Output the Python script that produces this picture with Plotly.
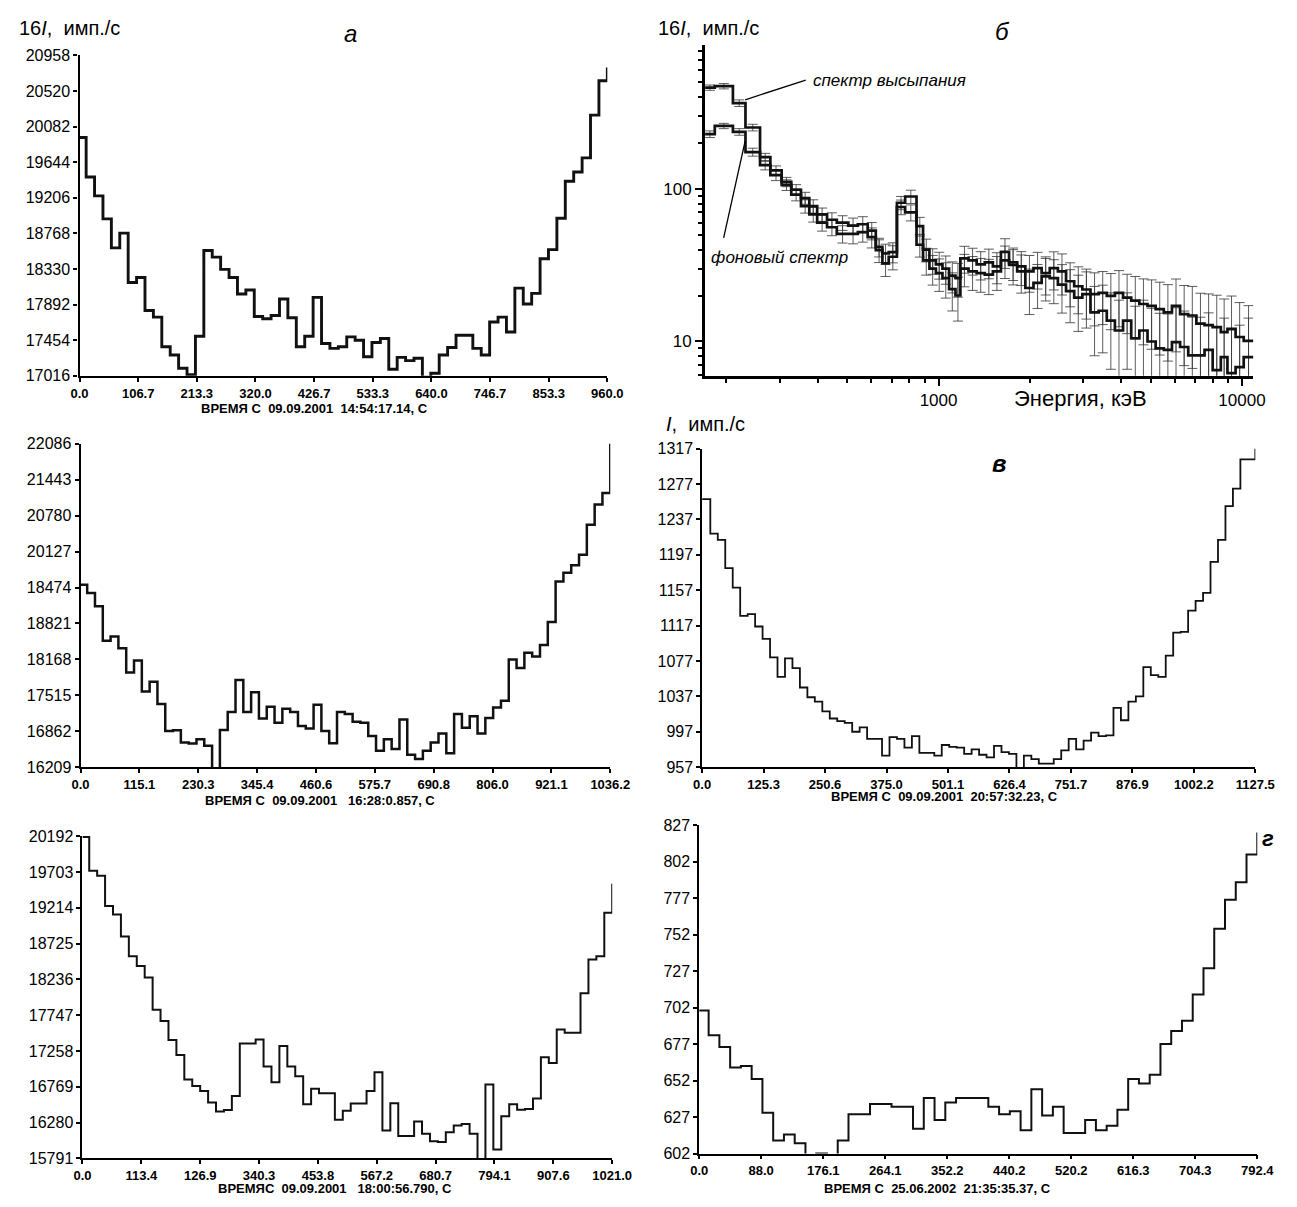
import math
import plotly.graph_objects as go

W, H = 1297, 1207          # target page size
PAD = 8                    # browser body margin around the figure
FW, FH = W - 2 * PAD, H - 2 * PAD
FONT = "Liberation Sans, Arial, sans-serif"

# ---------------- data ----------------
a_vals = [19949, 19462, 19230, 18947, 18590, 18772, 18164, 18225, 17819, 17738,
          17373, 17271, 17109, 17028, 17503, 18557, 18476, 18326, 18225, 18022,
          18071, 17746, 17718, 17758, 17961, 17730, 17373, 17503, 17981, 17413,
          17353, 17373, 17495, 17454, 17251, 17426, 17474, 17097, 17243, 17203,
          17231, 17000, 17048, 17271, 17365, 17515, 17515, 17353, 17271, 17677,
          17738, 17555, 18095, 17900, 18030, 18456, 18569, 18955, 19409, 19523,
          19697, 20224, 20646]
a_end = 20810
a_first = 12.0
a_T = 960.0
a_xt = ["0.0", "106.7", "213.3", "320.0", "426.7", "533.3", "640.0", "746.7", "853.3", "960.0"]
a_yt = ["17016", "17454", "17892", "18330", "18768", "19206", "19644", "20082", "20520", "20958"]

m_vals = [19522, 19373, 19134, 18507, 18585, 18370, 17928, 18149, 17582, 17761,
          17355, 16866, 16878, 16657, 16639, 16716, 16597, 16150, 16884, 17212,
          17791, 17212, 17570, 17092, 17307, 17015, 17271, 17212, 16955, 16913,
          17343, 16866, 16645, 17212, 17176, 17033, 17015, 16776, 16507, 16716,
          16537, 17074, 16436, 16358, 16507, 16657, 16818, 16460, 17176, 16925,
          17134, 16818, 17104, 17295, 17415, 18167, 18012, 18286, 18221, 18430,
          18847, 19581, 19742, 19880, 20071, 20614, 20984, 21193]
m_end = 22200
m_first = 13.0
m_T = 1036.2
m_xt = ["0.0", "115.1", "230.3", "345.4", "460.6", "575.7", "690.8", "806.0", "921.1", "1036.2"]
m_yt = ["16209", "16862", "17515", "18168", "18821", "18474", "20127", "20780", "21443", "22086"]

l_vals = [20180, 19720, 19652, 19239, 19123, 18822, 18552, 18418, 18260, 17820,
          17668, 17407, 17205, 16869, 16779, 16711, 16554, 16433, 16451, 16644,
          17362, 17362, 17416, 17048, 16833, 17326, 17048, 16913, 16532, 16743,
          16680, 16680, 16321, 16442, 16541, 16541, 16711, 16967, 16173, 16545,
          16096, 16096, 16294, 16128, 16025, 16016, 16150, 16240, 16262, 16128,
          15700, 16801, 15912, 16366, 16532, 16456, 16465, 16608, 17174, 17093,
          17551, 17506, 17506, 18045, 18507, 18552, 19145]
l_end = 19540
l_first = 13.0
l_T = 1021.0
l_xt = ["0.0", "113.4", "126.9", "340.3", "453.8", "567.2", "680.7", "794.1", "907.6", "1021.0"]
l_yt = ["15791", "16280", "16769", "17258", "17747", "18236", "18725", "19214", "19703", "20192"]

v_vals = [1260, 1221, 1214, 1182, 1160, 1128, 1130, 1116, 1102, 1081,
          1059, 1080, 1069, 1047, 1036, 1031, 1020, 1012, 1009, 1007,
          997, 1002, 989, 989, 970, 991, 989, 979, 992, 973,
          973, 970, 982, 980, 979, 972, 977, 971, 968, 981,
          974, 972, 955, 970, 966, 961, 961, 966, 976, 989,
          977, 987, 996, 992, 993, 1024, 1010, 1031, 1037, 1070,
          1061, 1059, 1083, 1109, 1110, 1134, 1145, 1154, 1189, 1214,
          1252, 1272, 1305, 1305]
v_end = 1325
v_first = 16.7
v_T = 1127.5
v_xt = ["0.0", "125.3", "250.6", "375.0", "501.1", "626.4", "751.7", "876.9", "1002.2", "1127.5"]
v_yt = ["957", "997", "1037", "1077", "1117", "1157", "1197", "1237", "1277", "1317"]

g_vals = [700, 683, 675, 661, 662, 653, 630, 611, 615, 609,
          601, 602, 598, 611, 629, 629, 636, 636, 634, 634,
          619, 640, 625, 637, 640, 640, 640, 634, 629, 631,
          618, 646, 628, 634, 616, 616, 625, 618, 621, 632,
          653, 650, 656, 677, 686, 693, 711, 729, 756, 776,
          788, 807]
g_end = 822
g_first = 13.4
g_T = 792.4
g_xt = ["0.0", "88.0", "176.1", "264.1", "352.2", "440.2", "520.2", "616.3", "704.3", "792.4"]
g_yt = ["602", "627", "652", "677", "702", "727", "752", "777", "802", "827"]

E_edges = [170, 183, 210, 231, 258, 279, 304, 327, 352, 375, 398, 429, 462, 504, 542,
           584, 621, 653, 685, 729, 776, 846, 889, 933, 980, 1030, 1083, 1137, 1180,
           1255, 1335, 1420, 1510, 1605, 1707, 1816, 1932, 2055, 2186, 2325, 2473,
           2631, 2799, 2977, 3167, 3369, 3584, 3812, 4055, 4314, 4589, 4882, 5193,
           5524, 5877, 6251, 6650, 7074, 7525, 8005, 8516, 8954, 9525, 10130, 10900]
spec_prec = [460, 470, 364, 252, 161, 132, 111, 98.6, 87, 77, 68, 62.7, 60, 57.4, 58.6,
             53.2, 41.6, 37.7, 38.5, 81, 89, 57, 40, 34, 32, 30, 27, 26, 35, 34, 32, 33,
             31, 38.6, 33, 31, 28.8, 30.2, 28, 30.2, 28.8, 24.8, 23, 21.9, 20.4, 20.8,
             19.9, 20.8, 19.4, 18.5, 17.6, 17.1, 16.3, 15.5, 17.1, 15.1, 14.8, 13.1,
             12.8, 12.4, 11.5, 12.1, 10.7, 10.1]
spec_bg = [228, 258, 236, 174, 143, 123, 106, 91.6, 77, 68, 60, 56, 50.7, 50.7, 52,
           48.2, 39.6, 32.5, 35.9, 76, 70, 43, 34, 30, 28, 26, 22, 20, 30, 28.8, 28,
           27.4, 28.8, 34, 31.7, 28.8, 22.4, 24.2, 26.7, 26, 23.6, 21.4, 19.4, 20.4,
           15.5, 15.9, 13.7, 11.8, 13.7, 10.5, 11.8, 10, 9.0, 8.8, 9.9, 9.2, 8.1, 8.1,
           8.8, 6.5, 7.9, 6.2, 6.8, 7.9]
err_prec = [0.04, 0.04, 0.05, 0.05, 0.06, 0.07, 0.07, 0.08, 0.09, 0.10, 0.10, 0.11, 0.11,
            0.12, 0.12, 0.13, 0.14, 0.15, 0.15, 0.10, 0.10, 0.14, 0.17, 0.19, 0.20, 0.21,
            0.23, 0.25, 0.20, 0.20, 0.21, 0.22, 0.23, 0.22, 0.24, 0.25, 0.27, 0.27, 0.28,
            0.28, 0.30, 0.32, 0.34, 0.36, 0.38, 0.38, 0.40, 0.40, 0.42, 0.44, 0.46, 0.48,
            0.50, 0.52, 0.50, 0.54, 0.55, 0.58, 0.60, 0.62, 0.65, 0.64, 0.68, 0.70]
err_bg = [0.05, 0.04, 0.05, 0.06, 0.07, 0.08, 0.08, 0.09, 0.10, 0.11, 0.12, 0.12, 0.13,
          0.14, 0.14, 0.15, 0.17, 0.18, 0.18, 0.11, 0.12, 0.17, 0.20, 0.22, 0.24, 0.26,
          0.28, 0.32, 0.24, 0.25, 0.25, 0.26, 0.25, 0.24, 0.26, 0.28, 0.33, 0.32, 0.31,
          0.32, 0.35, 0.38, 0.40, 0.40, 0.48, 0.47, 0.52, 0.58, 0.52, 0.62, 0.58, 0.65,
          0.70, 0.72, 0.68, 0.72, 0.78, 0.78, 0.75, 0.90, 0.80, 0.92, 0.88, 0.80]


def step_xy(vals, end_val, t_first, t_end):
    n = len(vals)
    dt = (t_end - t_first) / (n - 1)
    xs = [0.0] + [t_first + k * dt for k in range(n - 1)] + [t_end]
    ys = list(vals) + [end_val]
    return xs, ys


def px(x):
    return (x - PAD) / FW


def py(y):
    return 1 - (y - PAD) / FH


fig = go.Figure()

panels = {
    "a": (72, 612, 48, 373),
    "m": (73, 615, 442, 770),
    "l": (75, 617, 840, 1167),
    "v": (709, 1275, 447, 770),
    "g": (706, 1277, 829, 1162),
}
time_data = {
    "a": (a_vals, a_end, a_first, a_T, a_xt, a_yt, 2.9, 2.4),
    "m": (m_vals, m_end, m_first, m_T, m_xt, m_yt, 2.5, 2.0),
    "l": (l_vals, l_end, l_first, l_T, l_xt, l_yt, 2.0, 2.0),
    "v": (v_vals, v_end, v_first, v_T, v_xt, v_yt, 1.8, 1.6),
    "g": (g_vals, g_end, g_first, g_T, g_xt, g_yt, 2.0, 1.8),
}
axis_ids = {"a": 1, "m": 3, "l": 5, "v": 4, "g": 6}

layout_axes = {}
for key, (x0, x1, yt, yb) in panels.items():
    vals, endv, tf, T, xt, ytk, lw, alw = time_data[key]
    i = axis_ids[key]
    xs, ys = step_xy(vals, endv, tf, T)
    xname = "x" if i == 1 else f"x{i}"
    yname = "y" if i == 1 else f"y{i}"
    fig.add_trace(go.Scatter(x=xs, y=ys, mode="lines", line=dict(shape="hv", color="#111", width=lw),
                             xaxis=xname, yaxis=yname, hoverinfo="skip"))
    ylo, yhi = float(ytk[0]), float(ytk[-1])
    xa = dict(domain=[px(x0), px(x1)], anchor=yname, range=[0, T],
              tickvals=[T * k / 9 for k in range(10)], ticktext=xt,
              ticks="outside", ticklen=4, tickwidth=1.5, tickcolor="black",
              showline=True, linewidth=alw, linecolor="black", showgrid=False, zeroline=False,
              tickfont=dict(family=FONT, size=13, color="black", weight="bold"))
    ya = dict(domain=[py(yb), py(yt)], anchor=xname, range=[ylo, yhi],
              tickvals=[ylo + (yhi - ylo) * k / 9 for k in range(10)], ticktext=ytk,
              ticks="outside", ticklen=4, tickwidth=1.5, tickcolor="black",
              showline=True, linewidth=alw, linecolor="black", showgrid=False, zeroline=False,
              tickfont=dict(family=FONT, size=16, color="black"))
    layout_axes["xaxis" if i == 1 else f"xaxis{i}"] = xa
    layout_axes["yaxis" if i == 1 else f"yaxis{i}"] = ya

centers = [math.sqrt(E_edges[k] * E_edges[k + 1]) for k in range(len(E_edges) - 1)]
for vals, rel in ((spec_bg, err_bg), (spec_prec, err_prec)):
    fig.add_trace(go.Scatter(
        x=centers, y=vals, mode="markers", marker=dict(size=1, color="rgba(0,0,0,0)"),
        error_y=dict(type="data", array=[v * r for v, r in zip(vals, rel)], visible=True,
                     color="#333", thickness=0.8, width=5),
        xaxis="x2", yaxis="y2", hoverinfo="skip"))
for vals in (spec_bg, spec_prec):
    xs = list(E_edges[:-1]) + [E_edges[-1]]
    ys = list(vals) + [vals[-1]]
    fig.add_trace(go.Scatter(x=xs, y=ys, mode="lines", line=dict(shape="hv", color="#111", width=2.7),
                             xaxis="x2", yaxis="y2", hoverinfo="skip"))

bx0, bx1, byt, byb = 712, 1273, 37, 373
layout_axes["xaxis2"] = dict(
    domain=[px(bx0), px(bx1)], anchor="y2", type="log",
    range=[math.log10(170), math.log10(10900)],
    tickvals=[1000, 10000], ticktext=["1000", "10000"],
    ticks="outside", ticklen=7, tickwidth=2, tickcolor="black",
    minor=dict(tickvals=[200, 300, 400, 500, 600, 700, 800, 900, 2000, 3000, 4000, 5000,
                         6000, 7000, 8000, 9000], ticks="outside", ticklen=4, tickwidth=1.5,
               tickcolor="black"),
    showline=True, linewidth=3, linecolor="black", showgrid=False, zeroline=False,
    tickfont=dict(family=FONT, size=17, color="black"))
layout_axes["yaxis2"] = dict(
    domain=[py(byb), py(byt)], anchor="x2", type="log",
    range=[math.log10(5.96), math.log10(880)],
    tickvals=[10, 100], ticktext=["10", "100"],
    ticks="outside", ticklen=7, tickwidth=2, tickcolor="black",
    minor=dict(tickvals=[6, 7, 8, 9, 20, 30, 40, 50, 60, 70, 80, 90, 200, 300, 400, 500,
                         600, 700, 800], ticks="outside", ticklen=4, tickwidth=1.5,
               tickcolor="black"),
    showline=True, linewidth=3, linecolor="black", showgrid=False, zeroline=False,
    tickfont=dict(family=FONT, size=17, color="black"))

ann = []


def add_text(x, y, text, size, xanchor="center", bold=False, family=FONT):
    ann.append(dict(x=px(x), y=py(y), xref="paper", yref="paper", text=text, showarrow=False,
                    xanchor=xanchor, yanchor="middle",
                    font=dict(family=family, size=size, color="black",
                              weight="bold" if bold else "normal")))


NB = "\u00a0"
add_text(312, 406, f"ВРЕМЯ С{NB}{NB}09.09.2001{NB}{NB}14:54:17.14, С", 13, bold=True)
add_text(318, 804, f"ВРЕМЯ С{NB}{NB}09.09.2001{NB}{NB}{NB}16:28:0.857, С", 13, bold=True)
add_text(333, 1197, f"ВРЕМЯС{NB}{NB}09.09.2001{NB}{NB}{NB}18:00:56.790, С", 13, bold=True)
add_text(957, 800, f"ВРЕМЯ С{NB}{NB}09.09.2001{NB}{NB}20:57:32.23, С", 13, bold=True)
add_text(950, 1197, f"ВРЕМЯ С{NB}{NB}25.06.2002{NB}{NB}21:35:35.37, С", 13, bold=True)

add_text(8, 20, f"16<i>I</i>,{NB}{NB}имп./с", 20, xanchor="left")
add_text(662, 20, f"16<i>I</i>,{NB}{NB}имп./с", 20, xanchor="left")
add_text(670, 422, f"<i>I</i>,{NB}{NB}имп./с", 20, xanchor="left")
add_text(1096, 396, "Энергия, кэВ", 22)

add_text(349, 26, "<i>а</i>", 24)
add_text(1016, 24, "<i>б</i>", 24)
add_text(1013, 462, "<i>в</i>", 24, bold=True)
add_text(1288, 842, "<i>г</i>", 22, bold=True)

add_text(820, 73, "<i>спектр высыпания</i>", 17, xanchor="left")
add_text(716, 253, "<i>фоновый спектр</i>", 17, xanchor="left")

shapes = [
    dict(type="line", xref="paper", yref="paper", x0=px(753), y0=py(93), x1=px(815), y1=py(73),
         line=dict(color="black", width=1.3)),
    dict(type="line", xref="paper", yref="paper", x0=px(753), y0=py(135), x1=px(731), y1=py(233),
         line=dict(color="black", width=1.3)),
]

fig.update_layout(
    width=FW, height=FH, margin=dict(l=0, r=0, t=0, b=0),
    paper_bgcolor="white", plot_bgcolor="white", showlegend=False,
    annotations=ann, shapes=shapes, **layout_axes)

fig.write_html("out.html")
